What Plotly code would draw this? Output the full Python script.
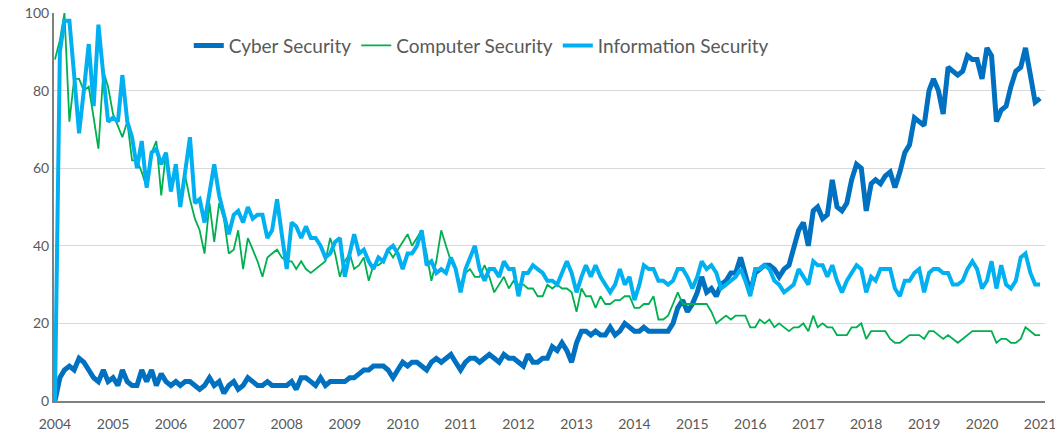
import pandas as pd
import plotly.graph_objects as go

months = pd.date_range("2004-01-01", periods=205, freq="MS")

cyber_security = [
    0, 6, 8, 9, 8, 11, 10, 8, 6, 5, 8, 5,
    6, 4, 8, 5, 4, 4, 8, 5, 8, 4, 7, 5,
    4, 5, 4, 5, 5, 4, 3, 4, 6, 4, 5, 2,
    4, 5, 3, 4, 6, 5, 4, 4, 5, 4, 4, 4,
    4, 5, 3, 6, 6, 5, 4, 6, 4, 5, 5, 5,
    5, 6, 6, 7, 8, 8, 9, 9, 9, 8, 6, 8,
    10, 9, 10, 10, 9, 8, 10, 11, 10, 11, 12, 10,
    8, 10, 11, 11, 10, 11, 12, 11, 10, 12, 11, 11,
    10, 9, 12, 10, 10, 11, 11, 14, 13, 15, 13, 10,
    15, 18, 18, 17, 18, 17, 17, 19, 17, 18, 20, 19,
    18, 18, 19, 18, 18, 18, 18, 18, 20, 24, 26, 23,
    25, 28, 32, 28, 29, 27, 30, 31, 33, 33, 37, 32,
    28, 33, 34, 35, 35, 34, 32, 34, 35, 40, 44, 46,
    40, 49, 50, 47, 48, 57, 50, 49, 51, 57, 61, 60,
    49, 56, 57, 56, 58, 59, 55, 59, 64, 66, 73, 72,
    71, 80, 83, 80, 74, 86, 85, 84, 85, 89, 88, 88,
    83, 91, 89, 72, 75, 76, 81, 85, 86, 91, 84, 77, 78,
]

computer_security = [
    88, 93, 100, 72, 83, 83, 80, 81, 73, 65, 85, 81,
    74, 71, 68, 72, 62, 62, 59, 55, 64, 67, 53, 64,
    54, 61, 52, 58, 52, 47, 44, 38, 51, 41, 51, 47,
    38, 39, 44, 34, 42, 39, 36, 32, 37, 38, 39, 37,
    36, 36, 34, 36, 34, 33, 34, 35, 36, 42, 38, 32,
    36, 38, 34, 35, 37, 31, 35, 35, 36, 39, 37, 39,
    41, 43, 40, 42, 44, 38, 31, 36, 44, 40, 36, 34,
    30, 33, 34, 32, 32, 35, 32, 28, 30, 32, 29, 31,
    30, 30, 29, 29, 27, 27, 30, 29, 30, 29, 29, 28,
    23, 29, 27, 27, 24, 27, 25, 25, 26, 26, 27, 27,
    24, 24, 25, 25, 27, 21, 21, 22, 25, 28, 25, 25,
    25, 25, 25, 25, 23, 20, 21, 22, 21, 22, 22, 22,
    19, 19, 21, 20, 21, 19, 20, 19, 18, 19, 19, 20,
    18, 22, 19, 20, 19, 19, 17, 17, 17, 19, 19, 20,
    16, 18, 18, 18, 18, 16, 15, 15, 16, 17, 17, 17,
    16, 18, 18, 17, 16, 17, 16, 15, 16, 17, 18, 18,
    18, 18, 18, 15, 16, 16, 15, 15, 16, 19, 18, 17, 17,
]

information_security = [
    0, 90, 98, 98, 84, 69, 80, 92, 76, 97, 84, 72,
    73, 72, 84, 72, 68, 60, 67, 55, 64, 65, 61, 64,
    54, 61, 50, 59, 68, 51, 52, 46, 54, 61, 53, 48,
    43, 48, 49, 46, 50, 47, 48, 48, 42, 44, 52, 43,
    34, 46, 45, 42, 45, 42, 42, 40, 37, 38, 41, 42,
    32, 38, 43, 38, 39, 36, 34, 37, 36, 39, 40, 38,
    34, 38, 38, 40, 44, 35, 36, 33, 34, 33, 37, 34,
    28, 34, 37, 40, 34, 31, 34, 34, 32, 36, 34, 34,
    27, 33, 33, 35, 34, 33, 31, 31, 30, 33, 36, 33,
    28, 32, 35, 32, 35, 32, 30, 28, 30, 34, 30, 32,
    26, 30, 35, 34, 34, 31, 31, 30, 31, 34, 34, 32,
    29, 32, 36, 34, 35, 33, 29, 30, 31, 32, 34, 31,
    27, 34, 34, 35, 34, 31, 30, 28, 29, 30, 34, 32,
    30, 36, 35, 35, 32, 35, 31, 28, 31, 33, 35, 34,
    28, 32, 31, 34, 34, 34, 29, 27, 31, 31, 33, 34,
    28, 33, 34, 34, 33, 33, 30, 30, 31, 34, 36, 34,
    29, 31, 36, 29, 35, 30, 29, 31, 37, 38, 33, 30, 30,
]

year_ticks = pd.date_range("2004-01-01", "2021-01-01", freq="YS")
year_labels = [str(d.year) for d in year_ticks]
y_ticks = [0, 20, 40, 60, 80, 100]

series = [
    ("Cyber Security", cyber_security, "#0070C0", 5),
    ("Computer Security", computer_security, "#00B050", 1.8),
    ("Information Security", information_security, "#00B0F0", 4),
]

fig = go.Figure()
for name, vals, color, w in series:
    fig.add_trace(go.Scatter(
        x=months, y=vals, name=name, mode="lines",
        line=dict(color=color, width=w),
    ))

fig.update_layout(
    width=1055, height=434,
    margin=dict(l=54, r=10, t=13, b=33),
    paper_bgcolor="white", plot_bgcolor="white",
    font=dict(family="Lato, Open Sans, sans-serif", color="#595959", size=14),
    showlegend=True,
    legend=dict(
        orientation="h", x=0.136, y=0.965, xanchor="left", yanchor="top",
        font=dict(size=19, color="#595959"), bgcolor="rgba(0,0,0,0)",
        itemwidth=30,
    ),
)
fig.update_xaxes(
    range=["2003-12-26", "2021-02-01"],
    tickvals=year_ticks, ticktext=year_labels,
    showgrid=False, showline=True, linecolor="#808080", linewidth=2,
    ticks="", tickfont=dict(size=14, color="#595959"), zeroline=False,
    automargin=False, ticklabeloverflow="allow", ticklabelstandoff=9,
)
fig.update_yaxes(
    range=[0, 100], tickvals=y_ticks,
    showgrid=True, gridcolor="#D9D9D9", gridwidth=1,
    showline=True, linecolor="#808080", linewidth=2,
    ticks="", tickfont=dict(size=14, color="#595959"), zeroline=False,
    automargin=False, ticklabelstandoff=0, ticklabeloverflow="allow",
)

fig.write_html(
    "out.html",
    config={"displayModeBar": False},
    post_script="document.body.style.margin='0';document.body.style.overflow='hidden';",
)
